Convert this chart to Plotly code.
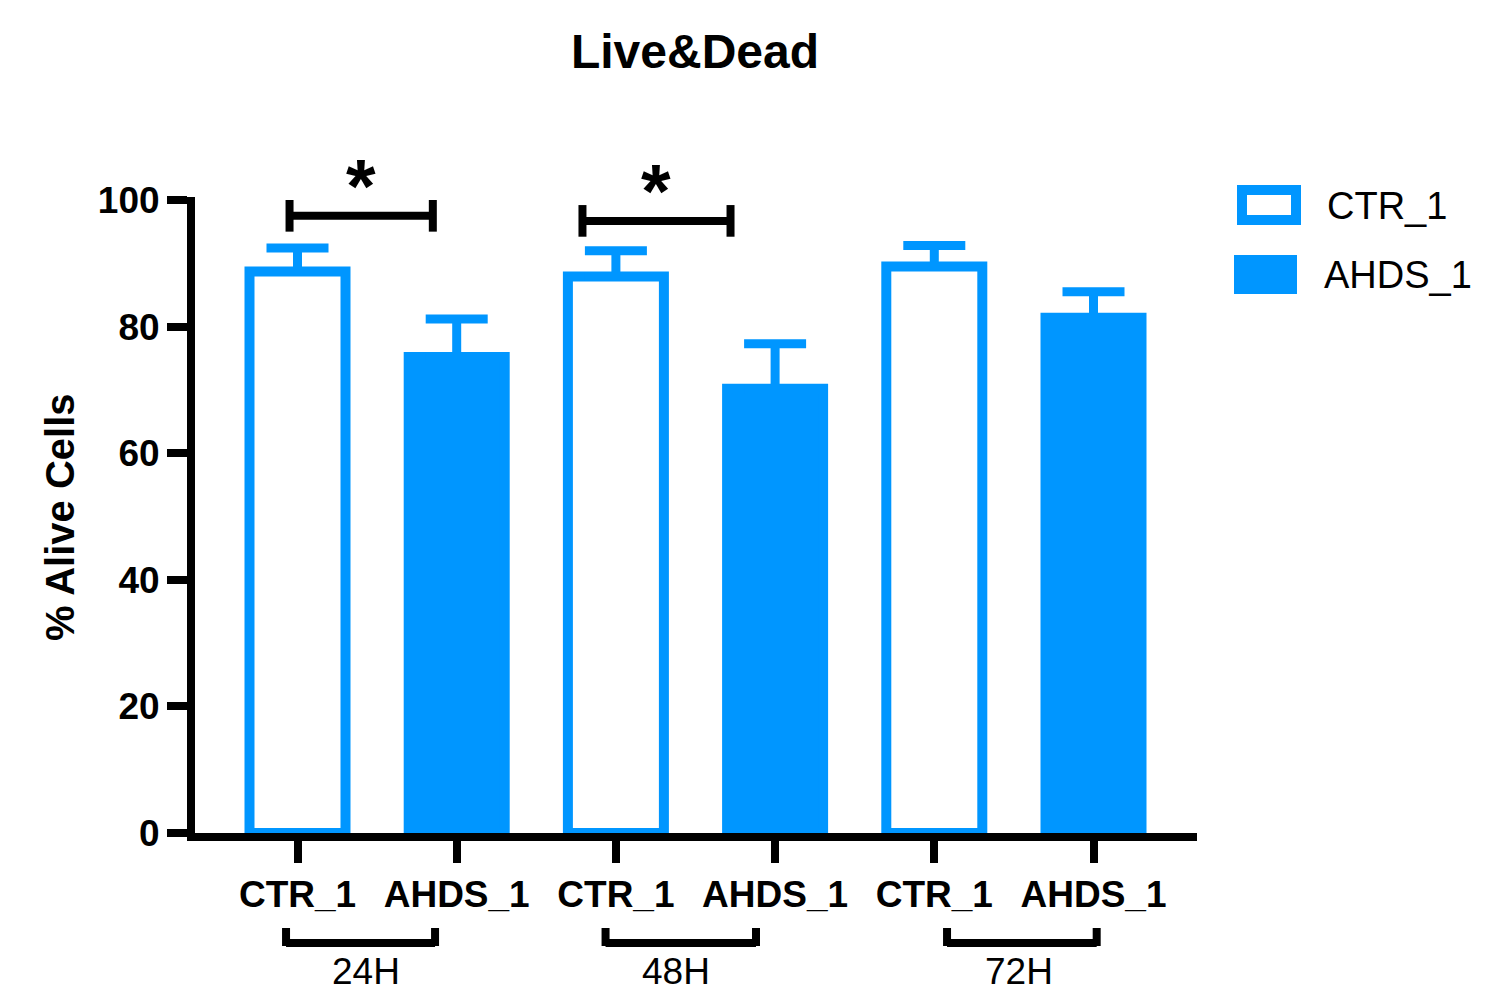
import plotly.graph_objects as go

# ---------------- data ----------------
groups = ["24H", "48H", "72H"]
series_names = ["CTR_1", "AHDS_1"]
ctr_mean = [88.7, 87.9, 89.5]
ctr_err = [3.7, 4.1, 3.3]
ahds_mean = [75.2, 70.2, 81.4]
ahds_err = [6.0, 7.1, 4.1]
y_ticks = [0, 20, 40, 60, 80, 100]
sig_groups = ["24H", "48H"]
sig_labels = ["*", "*"]

# ---------------- layout constants ----------------
W, H = 1493, 992
ML, MR, MT, MB = 195, 296, 197, 159
PW, PH = W - ML - MR, H - MT - MB
BLUE = "#0096FF"
FONT = "Arial, Liberation Sans, sans-serif"
SLOT = 159.2                      # px per category slot
X0 = -(297.5 - ML) / SLOT
X1 = X0 + PW / SLOT
Y1 = PH / 6.33

ctr_x = [2 * i for i in range(len(groups))]
ahds_x = [2 * i + 1 for i in range(len(groups))]
tick_x = sorted(ctr_x + ahds_x)
tick_text = [series_names[i % 2] for i in range(len(tick_x))]


def xp(v):
    return (v - X0) / (X1 - X0)


def yp(v):
    return v / Y1


def pxx(px):
    return (px - ML) / PW


def pxy(py):
    return (H - MB - py) / PH


fig = go.Figure()
fig.add_trace(go.Bar(
    x=ctr_x, y=ctr_mean, width=0.603, name=series_names[0],
    marker=dict(color="white", line=dict(color=BLUE, width=10)),
    error_y=dict(type="data", array=ctr_err, arrayminus=[0] * len(ctr_err),
                 symmetric=False, color=BLUE, thickness=9, width=31),
    showlegend=False,
))
fig.add_trace(go.Bar(
    x=ahds_x, y=ahds_mean, width=0.603, name=series_names[1],
    marker=dict(color=BLUE, line=dict(color=BLUE, width=10)),
    error_y=dict(type="data", array=ahds_err, arrayminus=[0] * len(ahds_err),
                 symmetric=False, color=BLUE, thickness=9, width=31),
    showlegend=False,
))

shapes = []
annotations = []

# significance brackets (offsets relative to the CTR bar of each group)
sig_off = {"24H": (-0.05, 0.85, 97.5, 0.40, 102.3),
           "48H": (-0.21, 0.72, 96.7, 0.25, 101.5)}
for g, lab in zip(sig_groups, sig_labels):
    gi = groups.index(g)
    a, b, yb, sx, sy = sig_off[g]
    xa, xb = ctr_x[gi] + a, ctr_x[gi] + b
    line = dict(color="black", width=8)
    shapes.append(dict(type="line", xref="paper", yref="paper",
                       x0=xp(xa), x1=xp(xb), y0=yp(yb), y1=yp(yb), line=line))
    for xx in (xa, xb):
        shapes.append(dict(type="line", xref="paper", yref="paper",
                           x0=xp(xx), x1=xp(xx), y0=yp(yb - 2.5), y1=yp(yb + 2.5), line=line))
    annotations.append(dict(text=lab, xref="paper", yref="paper",
                            x=xp(ctr_x[gi] + sx), y=yp(sy), xanchor="center", yanchor="middle",
                            showarrow=False, font=dict(family=FONT, size=76, color="black", weight=700)))

# group brackets below the axis
grp_off = [(-0.072, 0.864, 0.43), (-0.065, 0.88, 0.38), (0.08, 1.02, 0.53)]
for gi, g in enumerate(groups):
    a, b, c = grp_off[gi]
    xa, xb = ctr_x[gi] + a, ctr_x[gi] + b
    line = dict(color="black", width=8)
    shapes.append(dict(type="line", xref="paper", yref="paper",
                       x0=xp(xa), x1=xp(xb), y0=pxy(943), y1=pxy(943), line=line))
    for xx in (xa, xb):
        shapes.append(dict(type="line", xref="paper", yref="paper",
                           x0=xp(xx), x1=xp(xx), y0=pxy(928), y1=pxy(946), line=line))
    annotations.append(dict(text=g, xref="paper", yref="paper",
                            x=xp(ctr_x[gi] + c), y=pxy(971), xanchor="center", yanchor="middle",
                            showarrow=False, font=dict(family=FONT, size=37, color="black")))

# custom legend
shapes.append(dict(type="rect", xref="paper", yref="paper",
                   x0=pxx(1242), x1=pxx(1296), y0=pxy(190), y1=pxy(220),
                   line=dict(color=BLUE, width=10), fillcolor="white"))
shapes.append(dict(type="rect", xref="paper", yref="paper",
                   x0=pxx(1234), x1=pxx(1297), y0=pxy(255), y1=pxy(294),
                   line=dict(color=BLUE, width=0), fillcolor=BLUE))
annotations.append(dict(text=series_names[0], xref="paper", yref="paper",
                        x=pxx(1325), y=pxy(206), xanchor="left", yanchor="middle",
                        showarrow=False, font=dict(family=FONT, size=38, color="black")))
annotations.append(dict(text=series_names[1], xref="paper", yref="paper",
                        x=pxx(1322), y=pxy(275), xanchor="left", yanchor="middle",
                        showarrow=False, font=dict(family=FONT, size=38, color="black")))

# y axis title
annotations.append(dict(text="% Alive Cells", xref="paper", yref="paper",
                        x=pxx(60), y=pxy(517), xanchor="center", yanchor="middle", textangle=-90,
                        showarrow=False, font=dict(family=FONT, size=40, color="black", weight=700)))

fig.update_layout(
    width=W, height=H, autosize=False,
    margin=dict(l=ML, r=MR, t=MT, b=MB, pad=0),
    paper_bgcolor="white", plot_bgcolor="white",
    barmode="overlay",
    title=dict(text="Live&Dead", xref="container", yref="container",
               x=695 / W, y=1 - 51 / H, xanchor="center", yanchor="middle",
               font=dict(family=FONT, size=48, color="black", weight=700)),
    xaxis=dict(range=[X0, X1], tickvals=tick_x, ticktext=tick_text,
               showline=True, linecolor="black", linewidth=8,
               ticks="outside", ticklen=22, tickwidth=8, tickcolor="black",
               showgrid=False, zeroline=False,
               tickfont=dict(family=FONT, size=37, color="black", weight=700)),
    yaxis=dict(range=[0, Y1], tickvals=y_ticks,
               showline=True, linecolor="black", linewidth=8,
               ticks="outside", ticklen=20, tickwidth=8, tickcolor="black",
               showgrid=False, zeroline=False,
               tickfont=dict(family=FONT, size=37, color="black", weight=700)),
    shapes=shapes, annotations=annotations,
)

fig.write_html("out.html", config={"displayModeBar": False},
               post_script="document.body.style.margin='0';document.body.style.overflow='hidden';")
